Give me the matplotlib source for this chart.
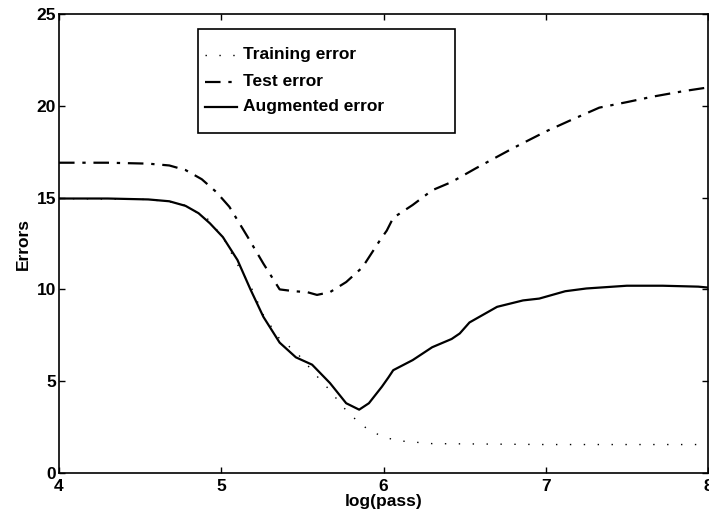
import matplotlib
matplotlib.use("Agg")
import matplotlib.pyplot as plt
from matplotlib.lines import Line2D
from matplotlib.patches import Rectangle

# --- data ---
test_x = [4.0, 4.3, 4.55, 4.68, 4.78, 4.88, 4.97, 5.05, 5.16, 5.26, 5.36, 5.45, 5.53,
          5.59, 5.67, 5.77, 5.87, 5.98, 6.02, 6.06, 6.18, 6.30, 6.42, 6.57, 6.8, 7.0,
          7.15, 7.33, 7.5, 7.66, 7.85, 8.0]
test_y = [16.9, 16.9, 16.85, 16.75, 16.5, 16.0, 15.3, 14.5, 12.9, 11.4, 10.0, 9.9, 9.85,
          9.7, 9.85, 10.4, 11.2, 12.7, 13.2, 13.9, 14.6, 15.4, 15.85, 16.6, 17.7, 18.6,
          19.2, 19.9, 20.2, 20.5, 20.8, 21.0]

aug_x = [4.0, 4.3, 4.55, 4.68, 4.78, 4.86, 4.93, 5.01, 5.10, 5.18, 5.26, 5.36, 5.46,
         5.56, 5.67, 5.77, 5.85, 5.91, 5.99, 6.03, 6.06, 6.18, 6.30, 6.42, 6.47, 6.53,
         6.70, 6.86, 6.96, 7.12, 7.25, 7.5, 7.72, 7.94, 8.0]
aug_y = [14.95, 14.95, 14.9, 14.8, 14.55, 14.15, 13.6, 12.85, 11.6, 10.0, 8.5, 7.1, 6.3,
         5.9, 4.9, 3.8, 3.45, 3.8, 4.7, 5.2, 5.6, 6.15, 6.85, 7.3, 7.6, 8.2,
         9.05, 9.4, 9.5, 9.9, 10.05, 10.2, 10.2, 10.15, 10.1]

train_x = [4.0, 4.55, 4.75, 4.91, 5.01, 5.11, 5.18, 5.26, 5.36, 5.46, 5.61, 5.67,
           5.75, 5.83, 5.9, 6.0, 6.1, 6.3, 7.0, 8.0]
train_y = [14.95, 14.9, 14.7, 13.9, 12.85, 11.2, 10.2, 8.6, 7.3, 6.6, 5.07, 4.5,
           3.6, 2.9, 2.4, 1.95, 1.75, 1.6, 1.55, 1.55]

legend_labels = ["Training error", "Test error", "Augmented error"]


def main():
    plt.rcParams['font.family'] = ['Liberation Sans', 'DejaVu Sans']
    fig = plt.figure(figsize=(7.09, 5.17), dpi=100)
    ax = fig.add_axes([59 / 709, 44 / 517, 649 / 709, 459 / 517])

    dashdot = (0, (7, 3.5, 1.5, 3.5))
    sparse_dots = (0, (1, 9))

    ax.plot(train_x, train_y, color='black', linestyle=sparse_dots, linewidth=1.0)
    ax.plot(test_x, test_y, color='black', linestyle=dashdot, linewidth=1.6)
    ax.plot(aug_x, aug_y, color='black', linestyle='-', linewidth=1.6)

    ax.set_xlim(4, 8)
    ax.set_ylim(0, 25)
    ax.set_xticks([4, 5, 6, 7, 8])
    ax.set_yticks([0, 5, 10, 15, 20, 25])
    ax.tick_params(direction='in', length=4, width=1, top=True, right=True,
                   labelsize=12.5)
    ax.tick_params(axis='x', pad=4)
    ax.tick_params(axis='y', pad=2)
    for lab in ax.get_xticklabels() + ax.get_yticklabels():
        lab.set_fontweight('bold')
    for sp in ax.spines.values():
        sp.set_linewidth(1.2)

    ax.set_xlabel('log(pass)', fontsize=12.5, fontweight='bold', labelpad=0)
    ax.set_ylabel('Errors', fontsize=12.5, fontweight='bold', labelpad=4)

    # --- hand-made legend box (matlab style) ---
    def px(x, y):
        return ((x - 59) / 649, (473 - y) / 459)

    x0, y0 = px(198, 133)
    x1, y1 = px(455, 29)
    ax.add_patch(Rectangle((x0, y0), x1 - x0, y1 - y0, transform=ax.transAxes,
                           facecolor='white', edgecolor='black', linewidth=1.2, zorder=5))
    styles = [sparse_dots, dashdot, '-']
    rows = [55, 82, 107]
    for lab, ls, ry in zip(legend_labels, styles, rows):
        ha, ya = px(205, ry)
        hb, _ = px(237, ry)
        ax.add_line(Line2D([ha, hb], [ya, ya], transform=ax.transAxes, color='black',
                           linestyle=ls, linewidth=1.6 if ls != sparse_dots else 1.0,
                           zorder=6))
        tx, ty = px(243, ry)
        ax.text(tx, ty, lab, transform=ax.transAxes, fontsize=12.5, fontweight='bold',
                va='center', ha='left', zorder=6)

    fig.savefig('out.png', dpi=100)


if __name__ == "__main__":
    main()
